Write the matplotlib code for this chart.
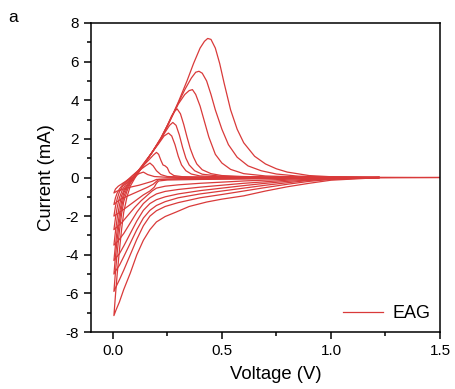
import numpy as np
import matplotlib
matplotlib.use('Agg')
import matplotlib.pyplot as plt
from matplotlib.ticker import MultipleLocator

plt.rcParams['font.family'] = ['Liberation Sans', 'DejaVu Sans']
plt.rcParams['axes.unicode_minus'] = False

# %% data: CV loops at increasing scan rate, (voltage V, current mA)
# each loop = cathodic sweep (high V -> 0) followed by anodic sweep (0 -> high V)
cv1 = [(1.5, 0.0), (1.2, -0.02), (1.0, -0.14), (0.9, -0.3), (0.8, -0.48), (0.7, -0.7),
       (0.6, -0.95), (0.5, -1.12), (0.43, -1.27), (0.35, -1.5), (0.29, -1.79), (0.24, -2.02),
       (0.2, -2.3), (0.17, -2.7), (0.14, -3.25), (0.11, -4.0), (0.08, -4.95), (0.05, -5.8),
       (0.03, -6.45), (0.015, -6.85), (0.005, -7.15),
       (0.012, -6.1), (0.02, -5.0), (0.03, -3.8), (0.04, -2.7), (0.05, -1.8), (0.065, -1.0),
       (0.08, -0.45), (0.1, -0.05), (0.12, 0.3), (0.15, 0.8), (0.18, 1.3), (0.22, 2.0),
       (0.26, 2.9), (0.3, 3.9), (0.34, 5.0), (0.37, 5.9), (0.4, 6.7), (0.42, 7.05),
       (0.435, 7.2), (0.45, 7.15), (0.47, 6.7), (0.49, 5.9), (0.51, 4.9), (0.54, 3.5),
       (0.57, 2.5), (0.6, 1.8), (0.65, 1.1), (0.7, 0.7), (0.75, 0.45), (0.8, 0.28),
       (0.9, 0.1), (1.0, 0.04), (1.2, 0.01), (1.5, 0.0)]

cv2 = [(1.22, 0.0), (1.0, -0.1), (0.9, -0.2), (0.8, -0.35), (0.7, -0.52), (0.6, -0.7),
       (0.5, -0.88), (0.4, -1.05), (0.3, -1.3), (0.24, -1.5), (0.2, -1.72), (0.17, -2.0),
       (0.14, -2.5), (0.11, -3.2), (0.08, -4.0), (0.05, -4.8), (0.03, -5.3), (0.015, -5.65),
       (0.005, -5.9),
       (0.012, -4.9), (0.02, -3.9), (0.03, -2.8), (0.04, -1.9), (0.05, -1.25), (0.065, -0.7),
       (0.08, -0.3), (0.1, 0.0), (0.12, 0.3), (0.15, 0.8), (0.18, 1.3), (0.22, 2.0),
       (0.26, 2.9), (0.3, 3.85), (0.33, 4.55), (0.36, 5.15), (0.38, 5.45), (0.395, 5.5),
       (0.41, 5.4), (0.43, 5.0), (0.45, 4.3), (0.47, 3.5), (0.5, 2.5), (0.53, 1.7),
       (0.57, 1.05), (0.62, 0.6), (0.68, 0.35), (0.75, 0.18), (0.85, 0.07), (1.0, 0.02),
       (1.22, 0.0)]

cv3 = [(1.22, 0.0), (1.0, -0.08), (0.9, -0.15), (0.8, -0.27), (0.7, -0.4), (0.6, -0.55),
       (0.5, -0.7), (0.4, -0.85), (0.3, -1.05), (0.24, -1.25), (0.2, -1.45), (0.17, -1.7),
       (0.14, -2.1), (0.11, -2.7), (0.08, -3.4), (0.05, -4.1), (0.03, -4.55), (0.015, -4.8),
       (0.005, -5.0),
       (0.012, -4.1), (0.02, -3.2), (0.03, -2.3), (0.04, -1.55), (0.05, -1.0), (0.065, -0.55),
       (0.08, -0.25), (0.1, 0.02), (0.12, 0.3), (0.15, 0.8), (0.18, 1.3), (0.22, 2.0),
       (0.26, 2.9), (0.3, 3.8), (0.33, 4.3), (0.35, 4.5), (0.365, 4.55), (0.38, 4.3),
       (0.4, 3.7), (0.42, 2.9), (0.44, 2.1), (0.47, 1.2), (0.5, 0.75), (0.54, 0.42),
       (0.6, 0.2), (0.7, 0.08), (0.85, 0.03), (1.0, 0.01), (1.22, 0.0)]

cv4 = [(1.22, 0.0), (1.0, -0.06), (0.8, -0.2), (0.7, -0.3), (0.6, -0.42), (0.5, -0.55),
       (0.4, -0.68), (0.3, -0.85), (0.24, -1.0), (0.2, -1.15), (0.17, -1.35), (0.14, -1.7),
       (0.11, -2.25), (0.08, -2.9), (0.05, -3.55), (0.03, -3.95), (0.015, -4.15), (0.005, -4.3),
       (0.012, -3.5), (0.02, -2.7), (0.03, -1.9), (0.04, -1.25), (0.05, -0.8), (0.065, -0.45),
       (0.08, -0.2), (0.1, 0.05), (0.12, 0.35), (0.15, 0.8), (0.18, 1.3), (0.22, 2.05),
       (0.25, 2.7), (0.27, 3.2), (0.285, 3.45), (0.295, 3.55), (0.31, 3.3), (0.325, 2.75),
       (0.34, 2.1), (0.355, 1.5), (0.37, 1.05), (0.385, 0.7), (0.41, 0.4), (0.45, 0.2),
       (0.5, 0.1), (0.6, 0.05), (0.8, 0.01), (1.22, 0.0)]

cv5 = [(1.22, 0.0), (1.0, -0.05), (0.8, -0.14), (0.7, -0.22), (0.6, -0.3), (0.5, -0.4),
       (0.4, -0.5), (0.3, -0.62), (0.24, -0.72), (0.2, -0.85), (0.17, -1.05), (0.14, -1.35),
       (0.11, -1.8), (0.08, -2.35), (0.05, -2.9), (0.03, -3.2), (0.015, -3.4), (0.005, -3.5),
       (0.012, -2.8), (0.02, -2.1), (0.03, -1.45), (0.04, -0.95), (0.055, -0.55), (0.07, -0.3),
       (0.09, -0.05), (0.12, 0.4), (0.15, 0.85), (0.18, 1.3), (0.21, 1.8),
       (0.24, 2.35), (0.26, 2.7), (0.275, 2.85), (0.29, 2.7), (0.305, 2.2), (0.32, 1.55),
       (0.335, 1.0), (0.35, 0.65), (0.375, 0.35), (0.41, 0.17), (0.5, 0.06), (0.7, 0.01),
       (1.22, 0.0)]

cv6 = [(1.22, 0.0), (1.0, -0.03), (0.8, -0.09), (0.6, -0.18), (0.5, -0.24), (0.4, -0.3),
       (0.3, -0.38), (0.24, -0.45), (0.2, -0.55), (0.18, -0.7), (0.16, -0.9), (0.13, -1.2),
       (0.1, -1.55), (0.07, -1.95), (0.04, -2.35), (0.02, -2.55), (0.005, -2.7),
       (0.012, -2.1), (0.02, -1.55), (0.03, -1.05), (0.045, -0.6), (0.06, -0.35), (0.08, -0.12),
       (0.1, 0.1), (0.12, 0.4), (0.15, 0.85), (0.18, 1.3), (0.21, 1.75), (0.235, 2.15),
       (0.255, 2.3), (0.27, 2.15), (0.285, 1.7), (0.3, 1.1), (0.315, 0.65), (0.335, 0.35),
       (0.36, 0.18), (0.4, 0.08), (0.5, 0.03), (0.7, 0.0), (1.22, 0.0)]

cv7 = [(1.22, 0.0), (1.0, -0.02), (0.8, -0.05), (0.6, -0.08), (0.4, -0.1), (0.25, -0.13),
       (0.21, -0.18), (0.2, -0.3), (0.19, -0.5), (0.17, -0.7), (0.14, -0.9), (0.11, -1.15),
       (0.08, -1.4), (0.05, -1.65), (0.025, -1.85), (0.005, -2.0),
       (0.012, -1.5), (0.02, -1.1), (0.03, -0.75), (0.045, -0.45), (0.07, -0.15),
       (0.1, 0.2), (0.13, 0.5), (0.16, 0.85), (0.185, 1.15), (0.2, 1.3), (0.21, 1.2),
       (0.22, 0.9), (0.23, 0.65), (0.24, 0.6), (0.25, 0.5), (0.26, 0.25), (0.28, 0.1),
       (0.32, 0.04), (0.5, 0.01), (1.22, 0.0)]

cv8 = [(1.22, 0.0), (0.8, -0.03), (0.5, -0.06), (0.3, -0.08), (0.21, -0.1), (0.2, -0.2),
       (0.185, -0.35), (0.16, -0.5), (0.13, -0.65), (0.1, -0.8), (0.07, -0.95), (0.04, -1.1),
       (0.02, -1.25), (0.005, -1.4),
       (0.012, -1.05), (0.02, -0.8), (0.03, -0.6), (0.045, -0.38), (0.065, -0.15), (0.09, 0.1),
       (0.12, 0.35), (0.15, 0.6), (0.17, 0.75), (0.185, 0.6), (0.2, 0.35), (0.22, 0.15),
       (0.25, 0.05), (0.35, 0.01), (1.22, 0.0)]

cv9 = [(1.22, 0.0), (0.6, -0.03), (0.3, -0.06), (0.2, -0.1), (0.18, -0.2), (0.15, -0.3),
       (0.12, -0.4), (0.08, -0.5), (0.05, -0.6), (0.02, -0.7), (0.005, -0.8),
       (0.012, -0.6), (0.025, -0.45), (0.045, -0.3), (0.07, -0.12), (0.1, 0.05), (0.12, 0.2),
       (0.14, 0.28), (0.16, 0.15), (0.19, 0.05), (0.25, 0.01), (1.22, 0.0)]

loops = [cv1, cv2, cv3, cv4, cv5, cv6, cv7, cv8, cv9]
label = 'EAG'

# %% plot
red = '#d93a3a'
fig = plt.figure(figsize=(4.56, 3.89), dpi=100)
ax = fig.add_axes([0.1996, 0.1465, 0.7653, 0.7944])

for k, loop in enumerate(loops):
    arr = np.array(loop)
    ax.plot(arr[:, 0], arr[:, 1], color=red, lw=0.9,
            label=label if k == 0 else None)

ax.set_xlim(-0.1, 1.5)
ax.set_ylim(-8, 8)
ax.xaxis.set_major_locator(MultipleLocator(0.5))
ax.xaxis.set_minor_locator(MultipleLocator(0.25))
ax.yaxis.set_major_locator(MultipleLocator(2))
ax.yaxis.set_minor_locator(MultipleLocator(1))
ax.tick_params(which='both', direction='out', top=False, right=False, width=1.1,
               labelsize=11)
ax.tick_params(which='major', length=5)
ax.tick_params(which='minor', length=3)
ax.set_xticks([0.0, 0.5, 1.0, 1.5])
ax.set_xticklabels(['0.0', '0.5', '1.0', '1.5'])
for s in ax.spines.values():
    s.set_linewidth(1.1)

ax.set_xlabel('Voltage (V)', fontsize=13.3)
ax.xaxis.set_label_coords(0.53, -0.11)
ax.set_ylabel('Current (mA)', fontsize=13.3, labelpad=8)
fig.text(0.018, 0.955, 'a', fontsize=12.5, va='center')

ax.legend(loc='lower right', frameon=False, fontsize=13, handlelength=2.2,
          handletextpad=0.5, borderaxespad=0.15)

fig.savefig('out.png', dpi=100)
